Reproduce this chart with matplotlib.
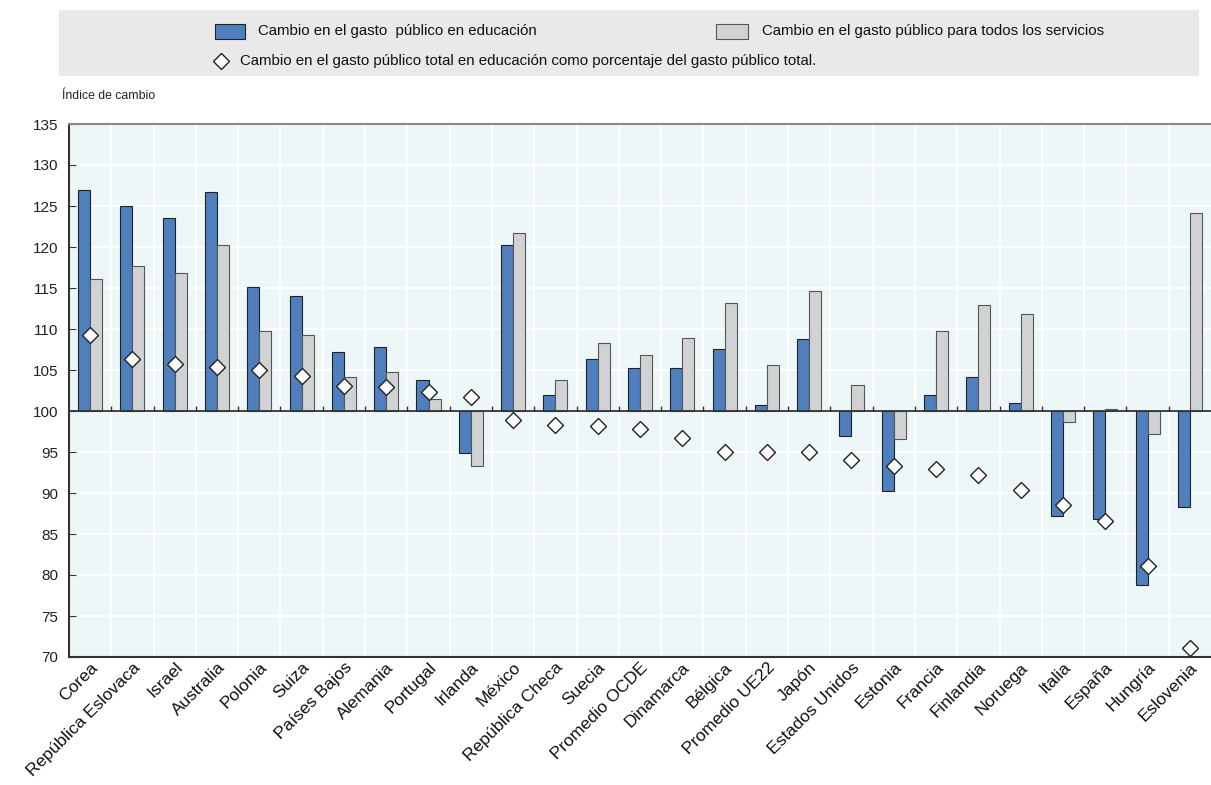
import matplotlib.pyplot as plt
from matplotlib.patches import Rectangle
import numpy as np

countries = ['Corea', 'República Eslovaca', 'Israel', 'Australia', 'Polonia', 'Suiza',
             'Países Bajos', 'Alemania', 'Portugal', 'Irlanda', 'México', 'República Checa',
             'Suecia', 'Promedio OCDE', 'Dinamarca', 'Bélgica', 'Promedio UE22', 'Japón',
             'Estados Unidos', 'Estonia', 'Francia', 'Finlandia', 'Noruega', 'Italia',
             'España', 'Hungría', 'Eslovenia']

# change in public spending on education (index, 100 = no change)
educ = [126.9, 125.0, 123.5, 126.7, 115.1, 114.0, 107.2, 107.8, 103.8, 94.85,
        120.3, 102.0, 106.3, 105.2, 105.2, 107.55, 100.7, 108.8, 97.0, 90.2,
        101.9, 104.1, 101.0, 87.25, 86.8, 78.8, 88.35]
# change in public spending on all services
all_serv = [116.1, 117.7, 116.8, 120.3, 109.7, 109.3, 104.1, 104.75, 101.5, 93.3,
            121.7, 103.8, 108.3, 106.8, 108.85, 113.2, 105.6, 114.6, 103.2, 96.6,
            109.7, 112.95, 111.8, 98.6, 100.3, 97.2, 124.2]
# change in education share of total public spending
share = [109.3, 106.3, 105.7, 105.4, 105.0, 104.3, 103.0, 102.9, 102.3, 101.75,
         98.9, 98.3, 98.2, 97.8, 96.7, 95.05, 95.0, 95.0, 94.0, 93.35,
         92.9, 92.2, 90.4, 88.5, 86.55, 81.1, 71.1]

yticks = np.arange(70, 136, 5)

W, H = 1211, 785
fig = plt.figure(figsize=(W / 100, H / 100), dpi=100)

font = ['Liberation Sans', 'DejaVu Sans']

# main axes
ax = fig.add_axes([69 / W, 1 - 657 / H, (W - 69) / W, (657 - 124) / H])
ax.set_facecolor('#eef7f8')

x = np.arange(len(countries))
w = 0.285
ax.bar(x - w / 2, np.array(educ) - 100, w, bottom=100, color='#4f80bd',
       edgecolor='#222222', linewidth=0.8, zorder=3)
ax.bar(x + w / 2, np.array(all_serv) - 100, w, bottom=100, color='#d1d2d4',
       edgecolor='#555555', linewidth=0.8, zorder=3)
ax.plot(x, share, linestyle='none', marker='D', markersize=8,
        markerfacecolor='white', markeredgecolor='#222222', markeredgewidth=1, zorder=5)

ax.axhline(100, color='#333333', linewidth=1.3, zorder=4)
ax.vlines(x[1:] - 0.5, 100, 100.6, color='#333333', linewidth=1, zorder=4)

ax.set_xlim(-0.5, len(countries) - 0.5)
ax.set_ylim(70, 135)
ax.set_yticks(yticks)
ax.set_yticklabels([str(v) for v in yticks], family=font, fontsize=11, color='#222222')
ax.set_xticks(x)
ax.set_xticklabels(countries, rotation=45, ha='right', va='top', rotation_mode='anchor',
                   family=font, fontsize=12.5, color='#111111')
ax.set_xticks(x[1:] - 0.5, minor=True)
ax.tick_params(axis='x', which='both', length=0, pad=2)
ax.tick_params(axis='y', direction='in', length=5, color='#333333', pad=8)

ax.grid(True, axis='y', which='major', color='white', linewidth=1.3, zorder=0)
ax.grid(True, axis='x', which='minor', color='white', linewidth=1.3, zorder=0)
ax.set_axisbelow(True)

for side in ['left', 'bottom']:
    ax.spines[side].set_color('#333333')
    ax.spines[side].set_linewidth(1.5)
ax.spines['top'].set_color('#888888')
ax.spines['top'].set_linewidth(1.5)
ax.spines['right'].set_visible(False)

fig.text(62 / W, 1 - 96 / H, 'Índice de cambio', family=font, fontsize=8.8,
         color='#222222', va='center', ha='left')

# legend panel, laid out in pixel units
lg = fig.add_axes([59 / W, 1 - 76 / H, (1199 - 59) / W, (76 - 10) / H])
lg.set_facecolor('#e9e9ea')
lg.set_xlim(59, 1199)
lg.set_ylim(76, 10)
lg.set_xticks([])
lg.set_yticks([])
for s in lg.spines.values():
    s.set_visible(False)

lg.add_patch(Rectangle((215, 24), 30, 15, facecolor='#4f80bd', edgecolor='#222222', linewidth=0.8))
lg.text(258, 31.5, 'Cambio en el gasto  público en educación', family=font,
        fontsize=10.8, va='center', ha='left', color='#111111')
lg.add_patch(Rectangle((716, 24), 32, 15, facecolor='#d1d2d4', edgecolor='#555555', linewidth=0.8))
lg.text(762, 31.5, 'Cambio en el gasto público para todos los servicios', family=font,
        fontsize=10.8, va='center', ha='left', color='#111111')
lg.plot([221], [61], linestyle='none', marker='D', markersize=8,
        markerfacecolor='white', markeredgecolor='#222222', markeredgewidth=1)
lg.text(240, 61, 'Cambio en el gasto público total en educación como porcentaje del gasto público total.',
        family=font, fontsize=10.8, va='center', ha='left', color='#111111')

fig.savefig('out.png', dpi=100)
